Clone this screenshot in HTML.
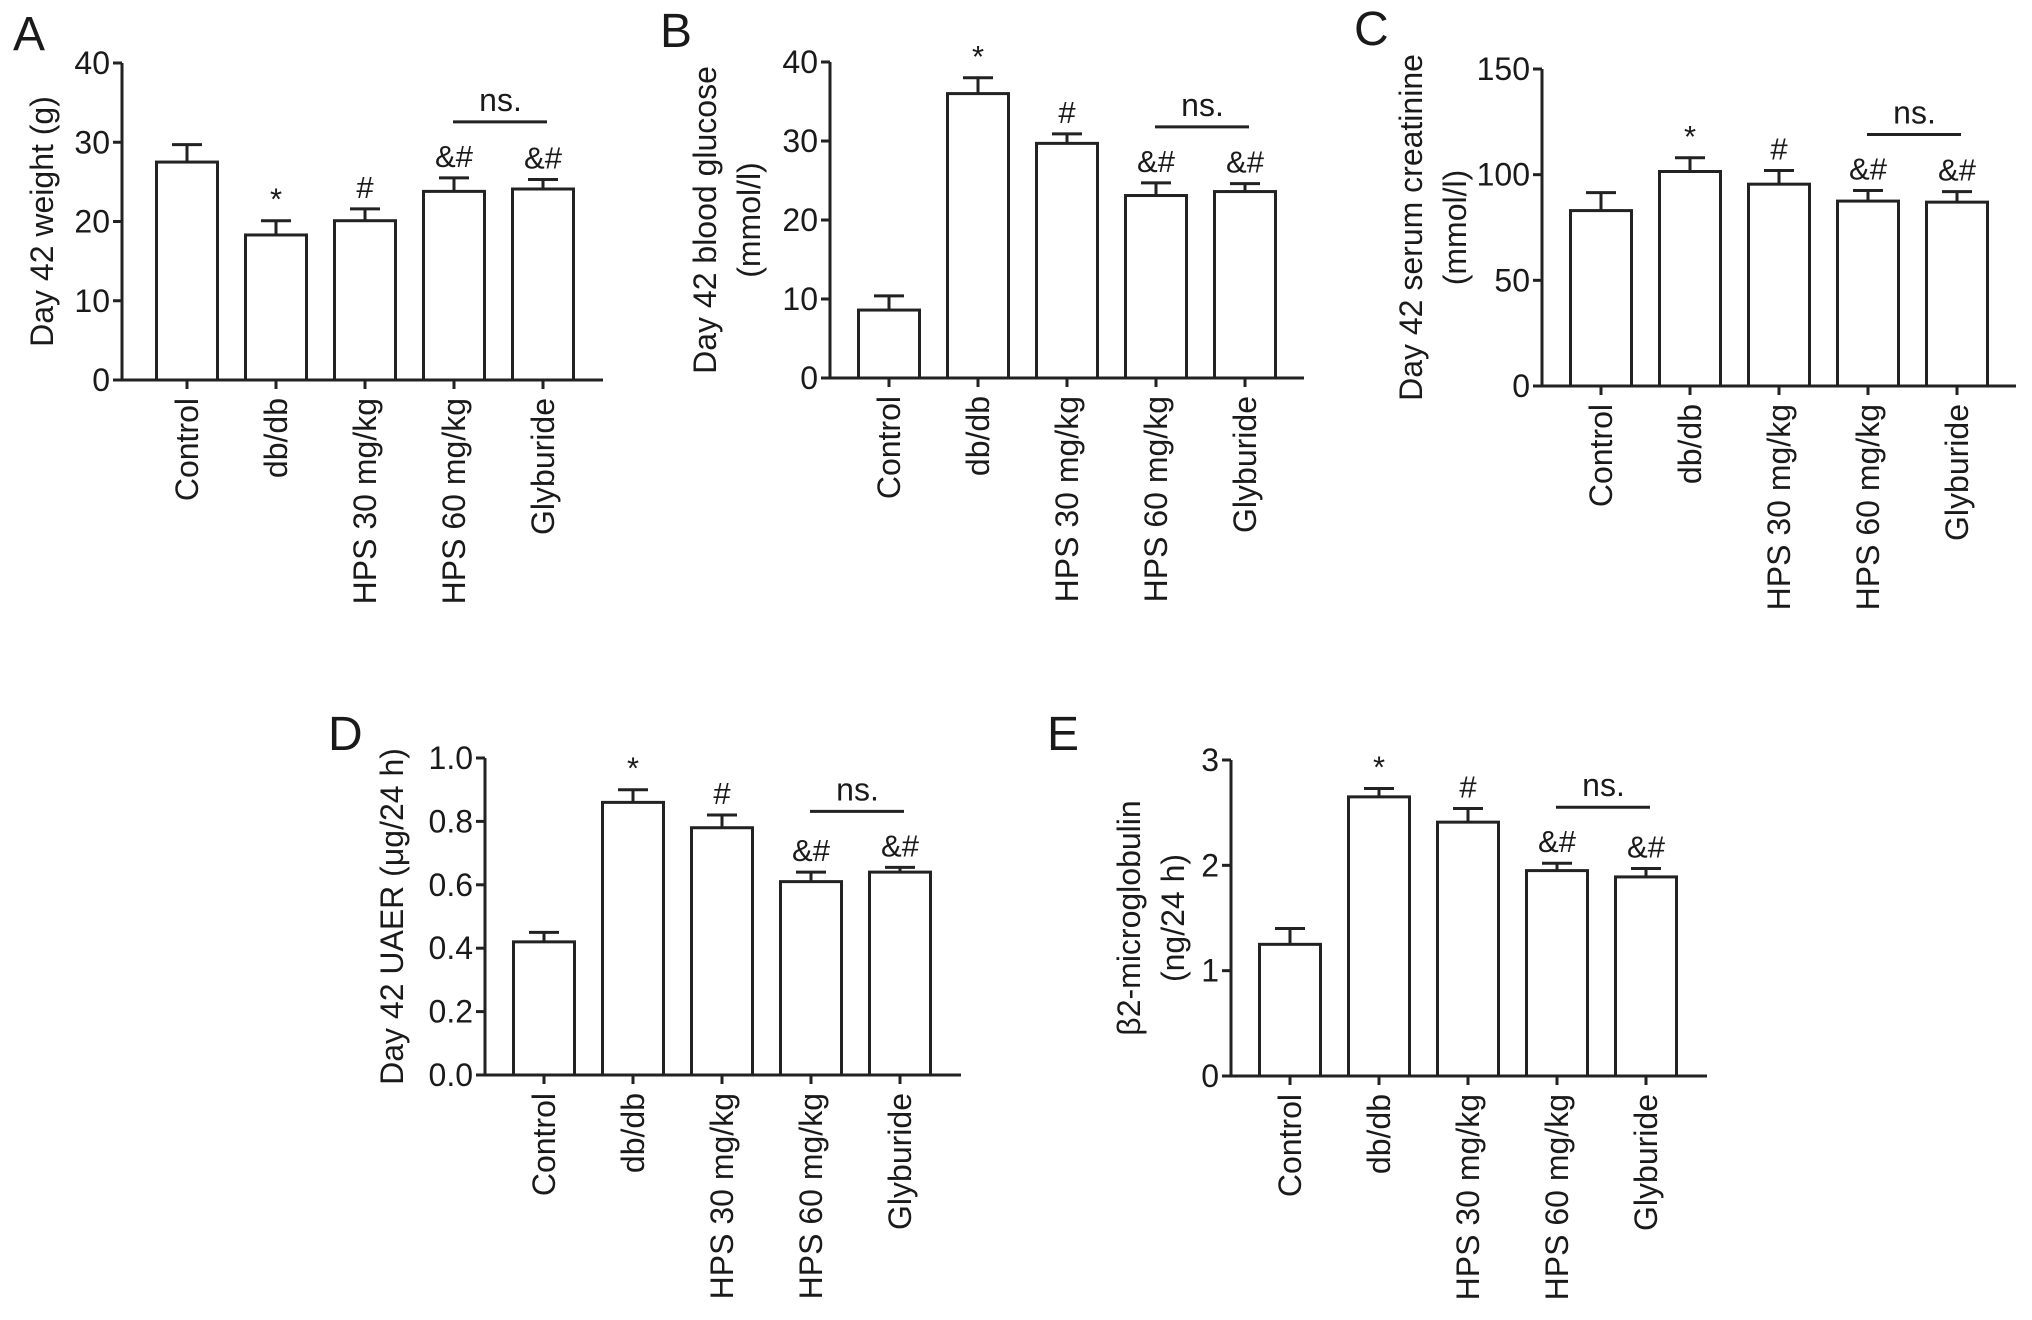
<!DOCTYPE html>
<html><head><meta charset="utf-8"><style>
body{margin:0;background:#fff}
svg{display:block}
text{font-family:"Liberation Sans",Arial,sans-serif;fill:#1a1a1a}
</style></head><body>
<svg id="fig" width="2032" height="1320" viewBox="0 0 2032 1320" xmlns="http://www.w3.org/2000/svg"></svg>
<script>
const categories = ["Control","db/db","HPS 30 mg/kg","HPS 60 mg/kg","Glyburide"];
const weightVals = [27.5,18.3,20.1,23.8,24.1];
const weightErr = [29.7,20.1,21.6,25.5,25.3];
const glucoseVals = [8.6,36,29.7,23.1,23.6];
const glucoseErr = [10.4,38,30.9,24.7,24.6];
const creatVals = [83,101.5,95.5,87.5,87];
const creatErr = [91.5,108,102,92.5,92];
const uaerVals = [0.42,0.86,0.78,0.61,0.64];
const uaerErr = [0.45,0.90,0.82,0.64,0.655];
const b2mVals = [1.25,2.65,2.41,1.95,1.89];
const b2mErr = [1.40,2.73,2.54,2.02,1.97];
const marks = ["","*","#","&#","&#"];
const weightTicks = [0,10,20,30,40];
const glucoseTicks = [0,10,20,30,40];
const creatTicks = [0,50,100,150];
const uaerTicks = ["0.0","0.2","0.4","0.6","0.8","1.0"];
const b2mTicks = [0,1,2,3];

const NS="http://www.w3.org/2000/svg";
const svg=document.getElementById('fig');
function el(tag,attrs,parent){const e=document.createElementNS(NS,tag);for(const k in attrs)e.setAttribute(k,attrs[k]);(parent||svg).appendChild(e);return e;}

const panels=[
 {id:'a',letter:'A',lx:13,ly:50,ax:122,x0:120,xEnd:603,yTop:63,yBot:380,max:40,vals:weightVals,err:weightErr,ticks:weightTicks,c0:187,title:["Day 42 weight (g)"],tx:[42]},
 {id:'b',letter:'B',lx:660,ly:47,ax:830,x0:828,xEnd:1304,yTop:62,yBot:378,max:40,vals:glucoseVals,err:glucoseErr,ticks:glucoseTicks,c0:889,title:["Day 42 blood glucose","(mmol/l)"],tx:[705,749]},
 {id:'c',letter:'C',lx:1354,ly:45,ax:1542,x0:1540,xEnd:2016,yTop:69,yBot:386,max:150,vals:creatVals,err:creatErr,ticks:creatTicks,c0:1601,title:["Day 42 serum creatinine","(mmol/l)"],tx:[1411,1455]},
 {id:'d',letter:'D',lx:328,ly:750,ax:485,x0:483,xEnd:961,yTop:758,yBot:1075,max:1.0,vals:uaerVals,err:uaerErr,ticks:uaerTicks,c0:544,title:["Day 42 UAER (\u03bcg/24 h)"],tx:[392]},
 {id:'e',letter:'E',lx:1047,ly:750,ax:1231,x0:1229,xEnd:1707,yTop:760,yBot:1076,max:3,vals:b2mVals,err:b2mErr,ticks:b2mTicks,c0:1290,title:["\u03b22-microglobulin","(ng/24 h)"],tx:[1129,1173]}
];
const step=89, bw=61, fs=32;

panels.forEach(p=>{
  const g=el('g',{});
  
  
  const y=v=>p.yBot-(v/p.max)*(p.yBot-p.yTop);
  const x=i=>p.c0+i*step;
  const L=el('text',{x:p.lx,y:p.ly,'font-size':48},g);L.textContent=p.letter;
  
  
  const ya=el('line',{x1:p.ax,y1:p.yTop,x2:p.ax,y2:p.yBot,stroke:'#222','stroke-width':3},g);
  
  
  p.ticks.forEach(t=>{
    const yy=y(parseFloat(t));
    el('line',{x1:p.ax-9,y1:yy,x2:p.ax,y2:yy,stroke:'#222','stroke-width':3},g);
    const tl=el('text',{x:p.ax-12,y:yy+11,'font-size':fs,'text-anchor':'end'},g);
    tl.textContent=t;
    
    
  });
  p.vals.forEach((v,i)=>{
    const cx=x(i);
    const eb=el('path',{d:`M${cx},${y(v)} V${y(p.err[i])} M${cx-15},${y(p.err[i])} H${cx+15}`,stroke:'#222','stroke-width':3,fill:'none'},g);
    
    
    const r=el('rect',{x:cx-bw/2,y:y(v),width:bw,height:p.yBot-y(v),fill:'#fff',stroke:'#222','stroke-width':3},g);
    
    
    el('line',{x1:cx,y1:p.yBot,x2:cx,y2:p.yBot+9,stroke:'#222','stroke-width':3},g);
    const lab=el('text',{transform:`translate(${cx+11},${p.yBot+18}) rotate(-90)`,'font-size':fs,'text-anchor':'end'},g);
    lab.textContent=categories[i];
    
    
    if(marks[i]){
      const m=el('text',{x:cx,y:y(p.err[i])-11,'font-size':31,'text-anchor':'middle',fill:'#333'},g);
      m.textContent=marks[i];
      
      
    }
  });
  const xa=el('line',{x1:p.x0,y1:p.yBot,x2:p.xEnd,y2:p.yBot,stroke:'#222','stroke-width':3},g);
  
  
  const nsTop=Math.min(y(p.err[3]),y(p.err[4]))-56;
  const nl=el('line',{x1:x(3)-1,y1:nsTop,x2:x(4)+4,y2:nsTop,stroke:'#222','stroke-width':3},g);
  
  
  const nt=el('text',{x:(x(3)+x(4))/2+2,y:nsTop-11,'font-size':32,'text-anchor':'middle'},g);
  nt.textContent='ns.';
  
  
  const cy=(p.yTop+p.yBot)/2;
  p.title.forEach((t,k)=>{
    const tt=el('text',{transform:`translate(${p.tx[k]+11},${cy}) rotate(-90)`,'font-size':fs,'text-anchor':'middle'},g);
    tt.textContent=t;
    
    
  });
});
</script>
</body></html>
